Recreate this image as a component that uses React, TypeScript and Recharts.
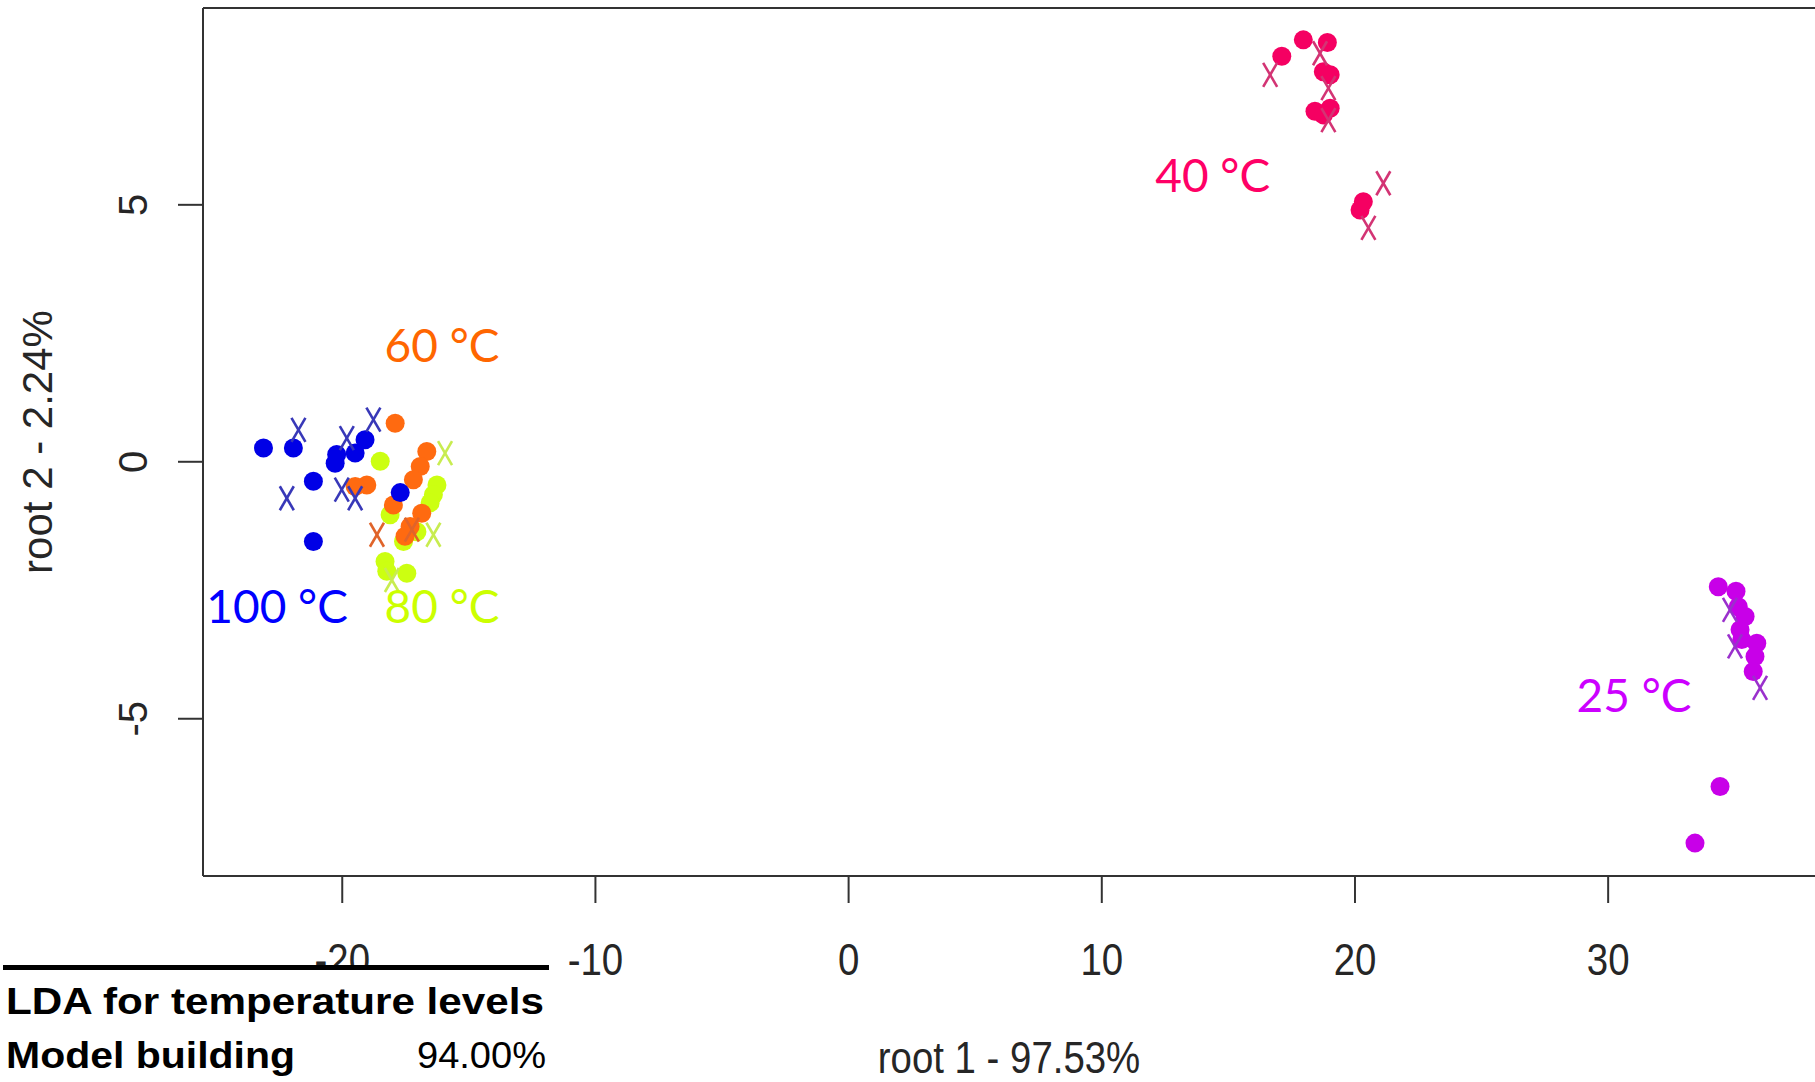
import { ScatterChart, Scatter, XAxis, YAxis, ReferenceLine } from 'recharts';

type Pt = { x: number; y: number };

// LDA scores
const dots100: Pt[] = [
  { x: -23.11, y: 0.27 }, { x: -21.93, y: 0.27 }, { x: -21.14, y: -0.38 },
  { x: -21.14, y: -1.55 }, { x: -20.28, y: -0.03 }, { x: -20.22, y: 0.14 },
  { x: -19.49, y: 0.17 }, { x: -19.1, y: 0.43 }, { x: -17.71, y: -0.6 },
];
const cross100: Pt[] = [
  { x: -21.73, y: 0.62 }, { x: -19.82, y: 0.46 }, { x: -18.77, y: 0.82 },
  { x: -22.19, y: -0.71 }, { x: -20.02, y: -0.54 }, { x: -19.49, y: -0.71 },
];
const dots80: Pt[] = [
  { x: -18.5, y: 0.01 }, { x: -16.26, y: -0.45 }, { x: -16.4, y: -0.64 },
  { x: -16.53, y: -0.8 }, { x: -18.11, y: -1.03 }, { x: -17.05, y: -1.36 },
  { x: -17.58, y: -1.55 }, { x: -18.31, y: -1.94 }, { x: -18.24, y: -2.13 },
  { x: -17.45, y: -2.17 },
];
const cross80: Pt[] = [
  { x: -15.94, y: 0.17 }, { x: -16.4, y: -1.42 }, { x: -18.04, y: -2.3 },
];
const dots60: Pt[] = [
  { x: -17.91, y: 0.75 }, { x: -16.66, y: 0.2 }, { x: -16.92, y: -0.09 },
  { x: -17.19, y: -0.35 }, { x: -19.03, y: -0.45 }, { x: -19.49, y: -0.48 },
  { x: -17.98, y: -0.84 }, { x: -16.86, y: -1.0 }, { x: -17.32, y: -1.26 },
  { x: -17.52, y: -1.45 },
];
const cross60: Pt[] = [
  { x: -18.63, y: -1.42 }, { x: -17.25, y: -1.32 },
];
const dots40: Pt[] = [
  { x: 17.11, y: 7.89 }, { x: 17.96, y: 8.21 }, { x: 18.91, y: 8.16 },
  { x: 18.75, y: 7.59 }, { x: 19.02, y: 7.53 }, { x: 18.42, y: 6.82 },
  { x: 19.02, y: 6.88 }, { x: 18.75, y: 6.75 }, { x: 20.33, y: 5.06 },
  { x: 20.2, y: 4.9 },
];
const cross40: Pt[] = [
  { x: 16.65, y: 7.53 }, { x: 18.62, y: 7.95 }, { x: 18.95, y: 7.27 },
  { x: 18.95, y: 6.65 }, { x: 21.12, y: 5.42 }, { x: 20.53, y: 4.55 },
];
const dots25: Pt[] = [
  { x: 34.35, y: -2.43 }, { x: 35.05, y: -2.52 }, { x: 35.14, y: -2.82 },
  { x: 35.41, y: -3.01 }, { x: 35.21, y: -3.27 }, { x: 35.28, y: -3.46 },
  { x: 35.87, y: -3.53 }, { x: 35.8, y: -3.79 }, { x: 35.73, y: -4.08 },
  { x: 34.42, y: -6.32 }, { x: 33.43, y: -7.42 },
];
const cross25: Pt[] = [
  { x: 34.81, y: -2.88 }, { x: 35.01, y: -3.59 }, { x: 36.0, y: -4.4 },
];

const groupLabels = [
  { x: -25.37, y: -3.13, text: '100 °C', color: '#0000ff' },
  { x: -18.33, y: -3.13, text: '80 °C', color: '#ccff00' },
  { x: -18.33, y: 1.95, text: '60 °C', color: '#ff6600' },
  { x: 12.11, y: 5.25, text: '40 °C', color: '#ff0066' },
  { x: 28.75, y: -4.86, text: '25 °C', color: '#cc00ff' },
];

const xTicks = [-20, -10, 0, 10, 20, 30];
const yTicks = [-5, 0, 5];

const X_DOMAIN: [number, number] = [-25.5, 38.17];
const Y_DOMAIN: [number, number] = [-8.06, 8.83];

const AXIS = '#333';
const TEXT = '#262626';
const FONT = '"Liberation Sans", Arial, sans-serif';

const dot = (color: string) => (p: any) => (
  <circle cx={p.cx} cy={p.cy} r={9.5} fill={color} />
);

const cross = (color: string) => (p: any) => {
  const { cx, cy } = p;
  return (
    <g stroke={color} strokeWidth={2.6}>
      <line x1={cx - 7} y1={cy - 12} x2={cx + 7} y2={cy + 12} />
      <line x1={cx + 7} y1={cy - 12} x2={cx - 7} y2={cy + 12} />
    </g>
  );
};

const labelShape = (p: any) => (
  <text
    x={p.cx}
    y={p.cy}
    fill={p.payload.color}
    fontSize={46}
    fontFamily='Lato, "Open Sans", sans-serif'
  >
    {p.payload.text}
  </text>
);

const XTick = (p: any) => (
  <g transform={`translate(${p.x},${p.y + 70}) scale(0.96,1.13)`}>
    <text x={0} y={0} textAnchor="middle" fontSize={40} fontFamily={FONT} fill={TEXT}>
      {p.payload.value}
    </text>
  </g>
);

const YTick = (p: any) => (
  <text
    transform={`translate(${p.x - 29},${p.y}) rotate(-90)`}
    textAnchor="middle"
    fontSize={40}
    fontFamily={FONT}
    fill={TEXT}
  >
    {p.payload.value}
  </text>
);

export default function App() {
  return (
    <div style={{ position: 'absolute', left: 0, top: 0, width: 1815, height: 1082, background: '#fff' }}>
      <ScatterChart width={1815} height={1082} margin={{ top: 8, right: 0, bottom: 86, left: 0 }}>
        <XAxis
          type="number"
          dataKey="x"
          domain={X_DOMAIN}
          ticks={xTicks}
          interval={0}
          allowDataOverflow
          height={120}
          tickSize={27}
          axisLine={{ stroke: AXIS, strokeWidth: 2 }}
          tickLine={{ stroke: AXIS, strokeWidth: 2 }}
          tick={<XTick />}
          label={{
            content: (lp: any) => {
              const vb = lp.viewBox;
              return (
                <g transform={`translate(${vb.x + vb.width / 2},1073) scale(0.96,1.1)`}>
                  <text x={0} y={0} textAnchor="middle" fontSize={40} fontFamily={FONT} fill={TEXT}>
                    root 1 - 97.53%
                  </text>
                </g>
              );
            },
          }}
        />
        <YAxis
          type="number"
          dataKey="y"
          domain={Y_DOMAIN}
          ticks={yTicks}
          interval={0}
          allowDataOverflow
          width={203}
          tickSize={25}
          axisLine={{ stroke: AXIS, strokeWidth: 2 }}
          tickLine={{ stroke: AXIS, strokeWidth: 2 }}
          tick={<YTick />}
          label={{
            content: (lp: any) => {
              const vb = lp.viewBox;
              return (
                <text
                  transform={`translate(52,${vb.y + vb.height / 2}) rotate(-90)`}
                  textAnchor="middle"
                  fontSize={42}
                  fontFamily={FONT}
                  fill={TEXT}
                >
                  root 2 - 2.24%
                </text>
              );
            },
          }}
        />
        <ReferenceLine y={Y_DOMAIN[1]} stroke={AXIS} strokeWidth={2} />
        <Scatter data={dots80} shape={dot('#ccff11')} isAnimationActive={false} />
        <Scatter data={cross80} shape={cross('#c8ec50')} isAnimationActive={false} />
        <Scatter data={dots60} shape={dot('#ff6a10')} isAnimationActive={false} />
        <Scatter data={cross60} shape={cross('#e0642a')} isAnimationActive={false} />
        <Scatter data={dots100} shape={dot('#0000e6')} isAnimationActive={false} />
        <Scatter data={cross100} shape={cross('#3838b8')} isAnimationActive={false} />
        <Scatter data={dots40} shape={dot('#f50062')} isAnimationActive={false} />
        <Scatter data={cross40} shape={cross('#d33474')} isAnimationActive={false} />
        <Scatter data={dots25} shape={dot('#c800e8')} isAnimationActive={false} />
        <Scatter data={cross25} shape={cross('#9a30cc')} isAnimationActive={false} />
        <Scatter data={groupLabels} shape={labelShape} isAnimationActive={false} />
      </ScatterChart>
      <svg
        width={560}
        height={122}
        style={{ position: 'absolute', left: 0, top: 960 }}
        fontFamily={FONT}
        fill="#000"
      >
        <rect x={0} y={10} width={552} height={112} fill="#fff" />
        <line x1={3} y1={7.5} x2={549} y2={7.5} stroke="#000" strokeWidth={5} />
        <text x={6} y={54} fontSize={37} fontWeight="bold" textLength={538} lengthAdjust="spacingAndGlyphs">
          LDA for temperature levels
        </text>
        <text x={6} y={108} fontSize={37} fontWeight="bold" textLength={289} lengthAdjust="spacingAndGlyphs">
          Model building
        </text>
        <text x={546} y={108} fontSize={37} textAnchor="end" textLength={129} lengthAdjust="spacingAndGlyphs">
          94.00%
        </text>
      </svg>
    </div>
  );
}
